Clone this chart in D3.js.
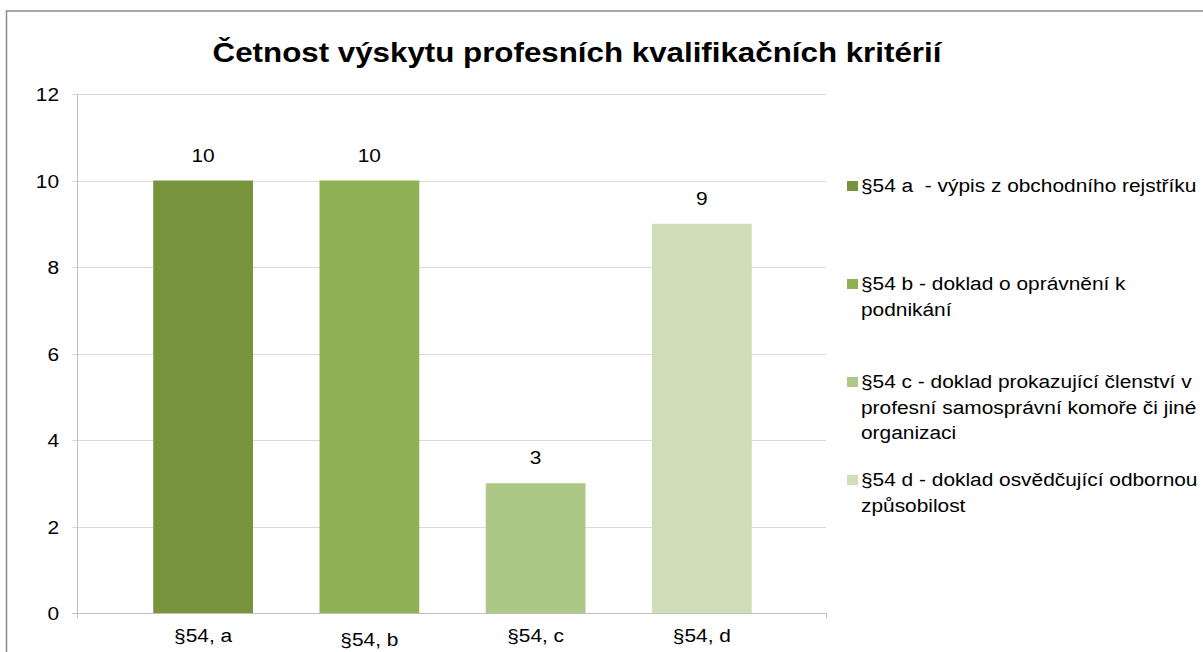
<!DOCTYPE html>
<html>
<head>
<meta charset="utf-8">
<script src="https://cdn.jsdelivr.net/npm/d3@7"></script>
<style>
  body { margin: 0; background: #fff; }
  svg text { font-family: "Liberation Sans", Arial, sans-serif; fill: #000; white-space: pre; }
</style>
</head>
<body>
<div id="chart"></div>
<script>
// chart data
var categories = ["§54, a", "§54, b", "§54, c", "§54, d"];
var values = [10, 10, 3, 9];
var barColors = ["#77933c", "#8fb055", "#adc787", "#d0ddb9"];
var legendLines = [
    ["§54 a  - výpis z obchodního rejstříku"],
    ["§54 b - doklad o oprávnění k", "podnikání"],
    ["§54 c - doklad prokazující členství v", "profesní samosprávní komoře či jiné", "organizaci"],
    ["§54 d - doklad osvědčující odbornou", "způsobilost"]
];
var yTicks = [0, 2, 4, 6, 8, 10, 12];
var title = "Četnost výskytu profesních kvalifikačních kritérií";

var width = 1203, height = 652;
// the source picture is a bit wider than tall, so text is stretched sideways
var stretch = 1.16;

var svg = d3.select("#chart").append("svg")
    .attr("width", width)
    .attr("height", height);

function addText(parent, px, py, str, size, anchor) {
    return parent.append("text")
        .attr("transform", "translate(" + px + "," + py + ") scale(" + stretch + ",1)")
        .attr("text-anchor", anchor || "start")
        .attr("font-size", size + "px")
        .text(str);
}

// outer frame
svg.append("rect")
    .attr("x", 6.5)
    .attr("y", 11)
    .attr("width", width)
    .attr("height", height)
    .attr("fill", "none")
    .attr("stroke", "#8c8c8c")
    .attr("stroke-width", 1.5);

var plotLeft = 77, plotRight = 826;

var y = d3.scaleLinear()
    .domain([0, 12])
    .range([613, 94]);

var x = d3.scaleBand()
    .domain(categories)
    .range([120, 785])
    .paddingInner(0.4)
    .paddingOuter(0.2);

// gridlines
svg.append("g")
    .selectAll("line")
    .data(yTicks)
    .enter().append("line")
    .attr("x1", plotLeft - 5)
    .attr("x2", plotRight)
    .attr("y1", function(d) { return Math.round(y(d)) + 0.5; })
    .attr("y2", function(d) { return Math.round(y(d)) + 0.5; })
    .attr("stroke", function(d) { return d === 0 ? "#bfbfbf" : "#d9d9d9"; })
    .attr("stroke-width", 1);

// y axis line
svg.append("line")
    .attr("x1", plotLeft + 0.5)
    .attr("x2", plotLeft + 0.5)
    .attr("y1", y(12))
    .attr("y2", y(0) + 5)
    .attr("stroke", "#bfbfbf");

// tick at right end of x axis
svg.append("line")
    .attr("x1", plotRight + 0.5)
    .attr("x2", plotRight + 0.5)
    .attr("y1", y(0))
    .attr("y2", y(0) + 5)
    .attr("stroke", "#bfbfbf");

// y tick labels
var yLabels = svg.append("g");
yTicks.forEach(function(t) {
    addText(yLabels, 59, y(t) + 7, t, 18, "end");
});

// bars
svg.append("g")
    .selectAll("rect")
    .data(values)
    .enter().append("rect")
    .attr("x", function(d, i) { return x(categories[i]); })
    .attr("y", function(d) { return y(d); })
    .attr("width", x.bandwidth())
    .attr("height", function(d) { return y(0) - y(d); })
    .attr("fill", function(d, i) { return barColors[i]; });

// value labels
var valueLabels = svg.append("g");
values.forEach(function(v, i) {
    addText(valueLabels, x(categories[i]) + x.bandwidth() / 2, y(v) - 19, v, 18, "middle");
});

// category labels
var catLabels = svg.append("g");
categories.forEach(function(c, i) {
    addText(catLabels, x(c) + x.bandwidth() / 2, i === 1 ? 646 : 642, c, 18, "middle");
});

// title
addText(svg, 577, 62, title, 27, "middle")
    .attr("font-weight", "bold");

// legend
var legend = svg.append("g")
    .selectAll("g")
    .data(legendLines)
    .enter().append("g")
    .attr("transform", function(d, i) { return "translate(847," + (192 + i * 98) + ")"; });

legend.append("rect")
    .attr("x", 0)
    .attr("y", -11)
    .attr("width", 11)
    .attr("height", 10)
    .attr("fill", function(d, i) { return barColors[i]; });

legend.each(function(lines) {
    var g = d3.select(this);
    lines.forEach(function(line, j) {
        addText(g, 14, j * 25.5, line, 18);
    });
});
</script>
</body>
</html>
